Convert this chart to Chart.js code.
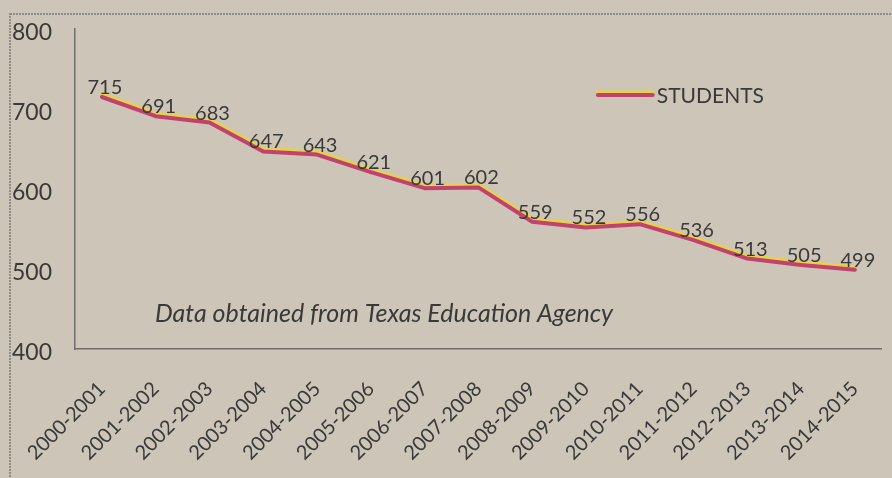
<!DOCTYPE html>
<html>
<head>
<meta charset="utf-8">
<script src="https://cdn.jsdelivr.net/npm/chart.js@4.4.1/dist/chart.umd.min.js"></script>
<style>
  html, body { margin: 0; padding: 0; background: #cdc6b8; }
  #wrap { width: 892px; height: 478px; }
</style>
</head>
<body>
<div id="wrap"><canvas id="students"></canvas></div>
<script>
const years = ['2000-2001','2001-2002','2002-2003','2003-2004','2004-2005','2005-2006','2006-2007','2007-2008',
  '2008-2009','2009-2010','2010-2011','2011-2012','2012-2013','2013-2014','2014-2015']
const students = [715,691,683,647,643,621,601,602,559,552,556,536,513,505,499]
const yTicks = [400,500,600,700,800]
const note = 'Data obtained from Texas Education Agency'

const ink = '#393939'
const lineRed = '#c2426f'
const lineYellow = '#e6d14c'

Chart.defaults.font.family = 'Lato, "Open Sans", sans-serif'
Chart.defaults.color = ink

// frame, glow line, labels, legend and note
const paper = {
  id: 'paper',
  beforeDraw(chart) {
    const ctx = chart.ctx
    ctx.save()
    ctx.strokeStyle = '#7a7a7a'
    ctx.lineWidth = 1.5
    ctx.setLineDash([2, 1])
    ctx.strokeRect(10, 14, 900, 500)
    ctx.restore()
  },
  beforeDatasetDraw(chart) {
    const ctx = chart.ctx
    ctx.save()
    ctx.shadowColor = lineYellow
    ctx.shadowOffsetY = -2.5
    ctx.shadowOffsetX = 0.5
    ctx.shadowBlur = 0
  },
  afterDatasetDraw(chart) {
    chart.ctx.restore()
  },
  afterDatasetsDraw(chart) {
    const ctx = chart.ctx
    const area = chart.chartArea
    const meta = chart.getDatasetMeta(0)
    ctx.save()
    ctx.fillStyle = ink
    ctx.font = '20px Lato, sans-serif'
    ctx.textAlign = 'center'
    ctx.textBaseline = 'alphabetic'
    meta.data.forEach((pt, i) => {
      ctx.fillText(String(students[i]), pt.x + 3, pt.y - 3)
    })

    // legend
    const lx = area.right - 284, ly = area.top + 66
    ctx.lineWidth = 4
    ctx.lineCap = 'round'
    ctx.strokeStyle = lineYellow
    ctx.beginPath(); ctx.moveTo(lx, ly - 2.5); ctx.lineTo(lx + 55, ly - 2.5); ctx.stroke()
    ctx.strokeStyle = lineRed
    ctx.beginPath(); ctx.moveTo(lx, ly); ctx.lineTo(lx + 55, ly); ctx.stroke()
    ctx.textAlign = 'left'
    ctx.textBaseline = 'middle'
    ctx.font = '21px Lato, sans-serif'
    ctx.fillText('STUDENTS', lx + 59, ly + 1)

    // source note
    ctx.font = 'italic 25px Lato, sans-serif'
    ctx.fillText(note, area.left + 80, area.top + 285)
    ctx.restore()
  }
}

new Chart(document.getElementById('students'), {
  type: 'line',
  data: {
    labels: years,
    datasets: [{
      label: 'STUDENTS',
      data: students,
      borderColor: lineRed,
      borderWidth: 4,
      pointRadius: 0,
      tension: 0,
      borderJoinStyle: 'round',
      borderCapStyle: 'round'
    }]
  },
  options: {
    responsive: true,
    maintainAspectRatio: false,
    animation: false,
    layout: { padding: { left: 12, top: 29, right: 4, bottom: 0 } },
    plugins: {
      legend: { display: false },
      tooltip: { enabled: false }
    },
    scales: {
      x: {
        offset: true,
        grid: { display: false },
        border: { display: true, color: '#6e6e6e', width: 1.5, dash: [2, 1] },
        ticks: { minRotation: 45, maxRotation: 45, padding: 20, color: ink, font: { size: 20 } },
        afterFit(scale) { scale.height = 129 }
      },
      y: {
        min: 400,
        max: 800,
        afterBuildTicks(scale) { scale.ticks = yTicks.map(v => ({ value: v })) },
        grid: { display: false },
        border: { display: true, color: '#6e6e6e', width: 1.5, dash: [2, 1] },
        ticks: { crossAlign: 'far', padding: 6, labelOffset: 4, color: ink, font: { size: 23 } },
        afterFit(scale) { scale.width = 63 }
      }
    }
  },
  plugins: [paper]
})
</script>
</body>
</html>
